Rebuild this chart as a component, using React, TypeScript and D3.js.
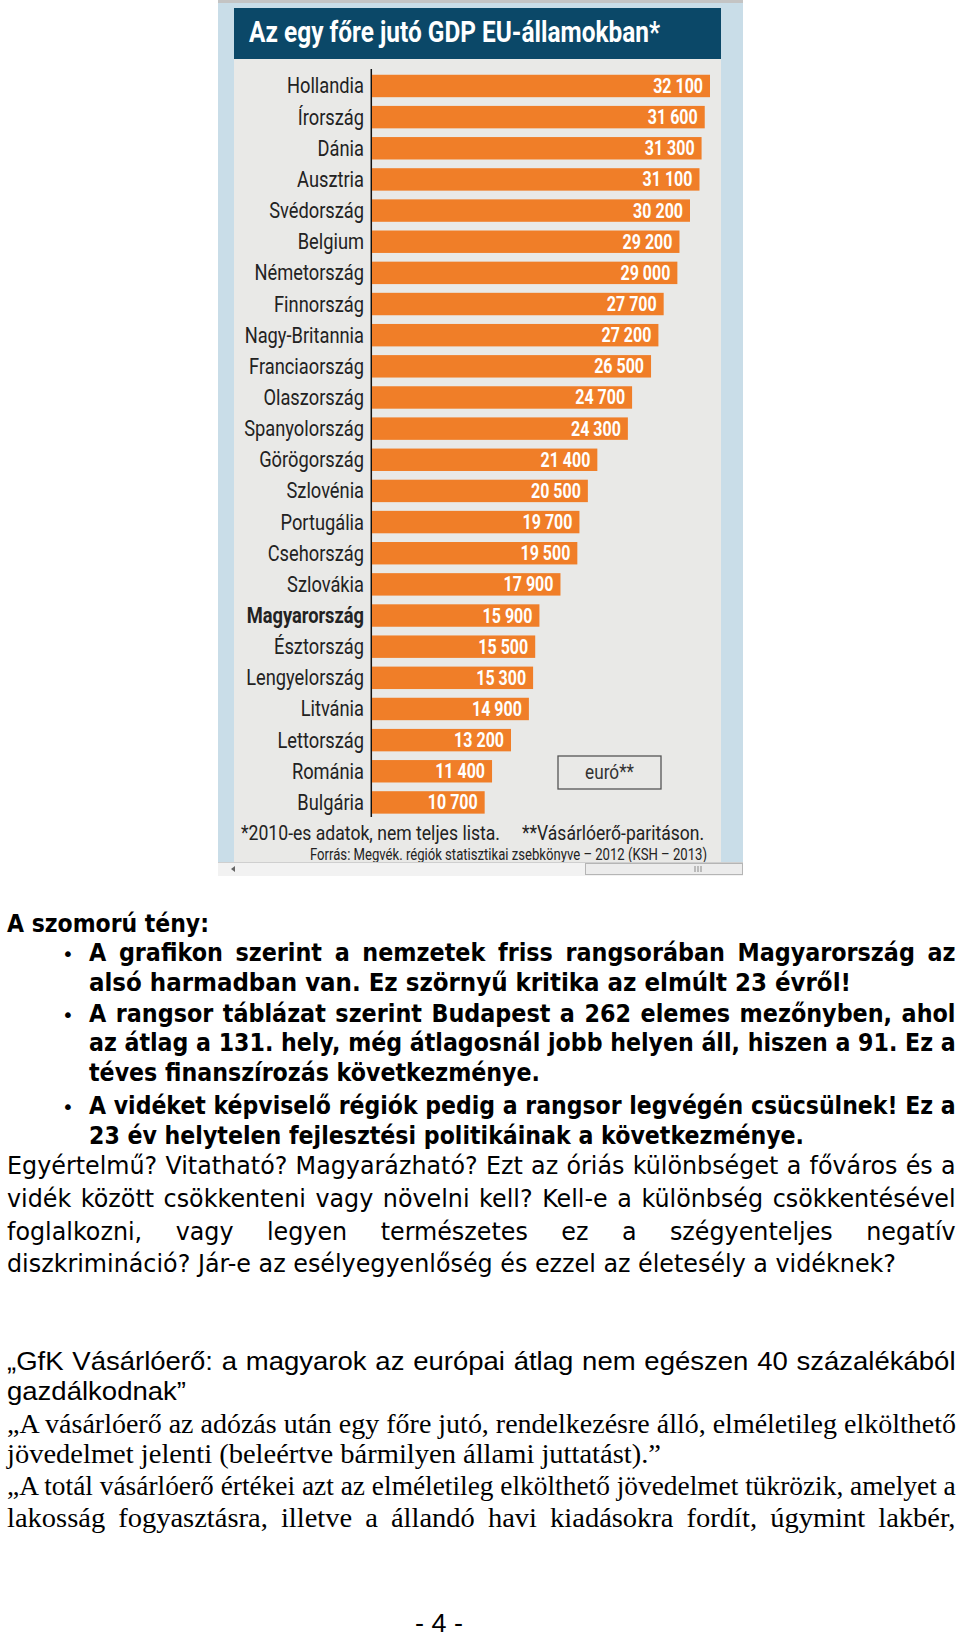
import React, { useLayoutEffect, useRef } from "react";
import * as d3 from "d3";

// ---- chart data ----
const countries = [
  "Hollandia", "Írország", "Dánia", "Ausztria", "Svédország", "Belgium",
  "Németország", "Finnország", "Nagy-Britannia", "Franciaország", "Olaszország",
  "Spanyolország", "Görögország", "Szlovénia", "Portugália", "Csehország",
  "Szlovákia", "Magyarország", "Észtország", "Lengyelország", "Litvánia",
  "Lettország", "Románia", "Bulgária",
];
const gdpValues = [
  32100, 31600, 31300, 31100, 30200, 29200, 29000, 27700, 27200, 26500, 24700,
  24300, 21400, 20500, 19700, 19500, 17900, 15900, 15500, 15300, 14900, 13200,
  11400, 10700,
];
const highlighted = "Magyarország";
const chartTitle = "Az egy főre jutó GDP EU-államokban*";
const unitLabel = "euró**";
const footnote1 = "*2010-es adatok, nem teljes lista.";
const footnote2 = "**Vásárlóerő-paritáson.";
const sourceText = "Forrás: Megvék. régiók statisztikai zsebkönyve – 2012 (KSH – 2013)";

// ---- page text ----
const boldLines = [
  "A szomorú tény:",
  "A grafikon szerint a nemzetek friss rangsorában Magyarország az",
  "alsó harmadban van. Ez szörnyű kritika az elmúlt 23 évről!",
  "A rangsor táblázat szerint Budapest a 262 elemes mezőnyben, ahol",
  "az átlag a 131. hely, még átlagosnál jobb helyen áll, hiszen a 91. Ez a",
  "téves finanszírozás következménye.",
  "A vidéket képviselő régiók pedig a rangsor legvégén csücsülnek! Ez a",
  "23 év helytelen fejlesztési politikáinak a következménye.",
];
const regularLines = [
  "Egyértelmű? Vitatható? Magyarázható? Ezt az óriás különbséget a főváros és a",
  "vidék között csökkenteni vagy növelni kell? Kell-e a különbség csökkentésével",
  "foglalkozni, vagy legyen természetes ez a szégyenteljes negatív",
  "diszkrimináció? Jár-e az esélyegyenlőség és ezzel az életesély a vidéknek?",
];
const quoteLines = [
  "„GfK Vásárlóerő: a magyarok az európai átlag nem egészen 40 százalékából",
  "gazdálkodnak”",
];
const serifLines = [
  "„A vásárlóerő az adózás után egy főre jutó, rendelkezésre álló, elméletileg elkölthető",
  "jövedelmet jelenti (beleértve bármilyen állami juttatást).”",
  "„A totál vásárlóerő értékei azt az elméletileg elkölthető jövedelmet tükrözik, amelyet a",
  "lakosság fogyasztásra, illetve a állandó havi kiadásokra fordít, úgymint lakbér,",
];
const pageNumber = "- 4 -";

const fmt = d3.formatLocale({ decimal: ",", thousands: " ", grouping: [3], currency: ["", ""] }).format(",");

type LineSpec = { text: string; x: number; y: number; w: number; j: boolean };

// A block of lines sharing a style; glyphs are compressed horizontally by a common
// factor derived from the ragged lines, justified lines get extra word spacing.
function TextBlock(props: { lines: LineSpec[]; style: any }) {
  const { lines, style } = props;
  const refs = useRef<(SVGTextElement | null)[]>([]);
  useLayoutEffect(() => {
    const els = refs.current;
    const nats = lines.map((l, i) => {
      const el = els[i]!;
      el.removeAttribute("textLength");
      el.removeAttribute("lengthAdjust");
      el.style.wordSpacing = "0px";
      el.setAttribute("transform", `translate(${l.x},${l.y})`);
      return el.getComputedTextLength();
    });
    const ratios = lines.map((l, i) => l.w / nats[i]).filter((_, i) => !lines[i].j);
    const s = ratios.length ? (d3.mean(ratios) as number) : (d3.min(lines.map((l, i) => l.w / nats[i])) as number);
    lines.forEach((l, i) => {
      const el = els[i]!;
      let si = s;
      if (l.j && nats[i] * si > l.w) si = l.w / nats[i];
      el.setAttribute("transform", `translate(${l.x},${l.y}) scale(${si},1)`);
      const gaps = (l.text.match(/ /g) || []).length;
      if (l.j && gaps > 0) {
        el.style.wordSpacing = `${(l.w / si - nats[i]) / gaps}px`;
      } else {
        el.setAttribute("textLength", String(l.w / si));
        el.setAttribute("lengthAdjust", "spacingAndGlyphs");
      }
    });
  }, [lines]);
  return (
    <g>
      {lines.map((l, i) => (
        <text key={i} ref={(el) => { refs.current[i] = el; }} style={style} transform={`translate(${l.x},${l.y})`}>
          {l.text}
        </text>
      ))}
    </g>
  );
}

const boldLayout = [
  { x: 7, y: 932, w: 202, j: false },
  { x: 89, y: 961, w: 867, j: true },
  { x: 89, y: 990.5, w: 762, j: false },
  { x: 89, y: 1021.5, w: 867, j: true },
  { x: 89, y: 1051, w: 867, j: true },
  { x: 89, y: 1081, w: 451, j: false },
  { x: 89, y: 1113.5, w: 867, j: true },
  { x: 89, y: 1144, w: 715, j: false },
];
const bulletYs = [961, 1021.5, 1113.5];
const regLayout = [
  { y: 1174, w: 949, j: true },
  { y: 1206.5, w: 949, j: true },
  { y: 1239.5, w: 949, j: true },
  { y: 1272, w: 889, j: false },
];
const quoteLayout = [
  { y: 1369.5, w: 949, j: true },
  { y: 1400, w: 179, j: false },
];
const serifLayout = [
  { y: 1432.5, w: 949, j: true },
  { y: 1462.5, w: 654, j: false },
  { y: 1495, w: 949, j: true },
  { y: 1526.5, w: 949, j: true },
];

const boldSpecs: LineSpec[] = boldLines.map((t, i) => ({ text: t, ...boldLayout[i] }));
const regSpecs: LineSpec[] = regularLines.map((t, i) => ({ text: t, x: 7, ...regLayout[i] }));
const quoteSpecs: LineSpec[] = quoteLines.map((t, i) => ({ text: t, x: 7, ...quoteLayout[i] }));
const serifSpecs: LineSpec[] = serifLines.map((t, i) => ({ text: t, x: 7, ...serifLayout[i] }));
const pageSpecs: LineSpec[] = [{ text: pageNumber, x: 415, y: 1632, w: 48, j: false }];

const boldStyle = { fontFamily: "'DejaVu Sans', sans-serif", fontWeight: 700, fontSize: 24, fill: "#000" };
const regStyle = { fontFamily: "'DejaVu Sans', sans-serif", fontWeight: 400, fontSize: 25, fill: "#000" };
const narrowStyle = { fontFamily: "'Liberation Sans', Arial, sans-serif", fontWeight: 400, fontSize: 26.5, fill: "#000" };
const serifStyle = { fontFamily: "'Liberation Serif', 'Times New Roman', serif", fontWeight: 400, fontSize: 27, fill: "#000" };
const pageStyle = { fontFamily: "'Liberation Sans', Arial, sans-serif", fontWeight: 400, fontSize: 25, fill: "#000" };

export default function App() {
  const x = d3.scaleLinear().domain([0, d3.max(gdpValues) as number]).range([372, 710]);
  const y = d3.scaleBand<string>().domain(countries).range([70.4, 818]).paddingInner(0.28).paddingOuter(0.14);
  const bw = y.bandwidth();

  return (
    <svg
      width={960}
      height={1637}
      style={{ position: "absolute", left: 0, top: 0, background: "#fff" }}
    >
      <defs>
        <clipPath id="panelClip">
          <rect x={234} y={59} width={487} height={803} />
        </clipPath>
      </defs>
      {/* frame */}
      <rect x={218} y={0} width={525} height={3} fill="#c4c4c4" />
      <rect x={218} y={3} width={525} height={859} fill="#c9dde8" />
      <rect x={234} y={8} width={487} height={51} fill="#0b4868" />
      <rect x={234} y={59} width={487} height={803} fill="#e9e9e7" />
      <text
        x={249}
        y={42}
        textLength={411}
        lengthAdjust="spacingAndGlyphs"
        style={{ fontFamily: "Roboto, sans-serif", fontWeight: 700, fontSize: 29, fill: "#fff" }}
      >
        {chartTitle}
      </text>

      {/* axis line */}
      <line x1={371.3} x2={371.3} y1={69} y2={817} stroke="#111" strokeWidth={1.5} />

      {/* bars */}
      {countries.map((c, i) => {
        const v = gdpValues[i];
        const y0 = y(c) as number;
        const cy = y0 + bw / 2;
        return (
          <g key={c}>
            <rect x={x(0)} y={y0} width={x(v) - x(0)} height={bw} fill="#f07e28" />
            <text
              transform={`translate(364,${cy + 7.5}) scale(0.85,1)`}
              textAnchor="end"
              style={{
                fontFamily: "Roboto, sans-serif",
                fontSize: 21.5,
                fontWeight: c === highlighted ? 700 : 400,
                fill: "#222",
              }}
            >
              {c}
            </text>
            <text
              transform={`translate(${x(v) - 7},${cy + 7}) scale(0.8,1)`}
              textAnchor="end"
              style={{ fontFamily: "Roboto, sans-serif", fontSize: 20, fontWeight: 700, fill: "#fff" }}
            >
              {fmt(v)}
            </text>
          </g>
        );
      })}

      {/* unit box */}
      <rect x={558} y={756} width={103} height={33} fill="none" stroke="#555" strokeWidth={1.3} />
      <text
        transform="translate(609.5,779) scale(0.86,1)"
        textAnchor="middle"
        style={{ fontFamily: "Roboto, sans-serif", fontSize: 20, fill: "#333" }}
      >
        {unitLabel}
      </text>

      {/* footnotes */}
      <text x={241} y={840} textLength={259} lengthAdjust="spacingAndGlyphs"
        style={{ fontFamily: "Roboto, sans-serif", fontSize: 20.5, fill: "#222" }}>
        {footnote1}
      </text>
      <text x={522} y={840} textLength={182} lengthAdjust="spacingAndGlyphs"
        style={{ fontFamily: "Roboto, sans-serif", fontSize: 20.5, fill: "#222" }}>
        {footnote2}
      </text>
      <g clipPath="url(#panelClip)">
        <text x={310} y={860} textLength={397} lengthAdjust="spacingAndGlyphs"
          style={{ fontFamily: "Roboto, sans-serif", fontSize: 17, fill: "#222" }}>
          {sourceText}
        </text>
      </g>

      {/* scrollbar strip */}
      <rect x={218} y={862} width={525} height={14} fill="#f2f2f2" />
      <line x1={218} x2={743} y1={862.5} y2={862.5} stroke="#cfcfcf" />
      <rect x={585.5} y={863.5} width={157} height={11} fill="#ececec" stroke="#b5b5b5" />
      {[695, 698, 701].map((gx) => (
        <line key={gx} x1={gx} x2={gx} y1={866} y2={872} stroke="#8a8a8a" />
      ))}
      <path d="M231,869 L235,866 L235,872 Z" fill="#666" />

      {/* page text */}
      <TextBlock lines={boldSpecs} style={boldStyle} />
      {bulletYs.map((by) => (
        <text key={by} x={62} y={by} style={{ fontFamily: "'DejaVu Sans', sans-serif", fontSize: 20, fill: "#000" }}>
          •
        </text>
      ))}
      <TextBlock lines={regSpecs} style={regStyle} />
      <TextBlock lines={quoteSpecs} style={narrowStyle} />
      <TextBlock lines={serifSpecs} style={serifStyle} />
      <TextBlock lines={pageSpecs} style={pageStyle} />
    </svg>
  );
}
